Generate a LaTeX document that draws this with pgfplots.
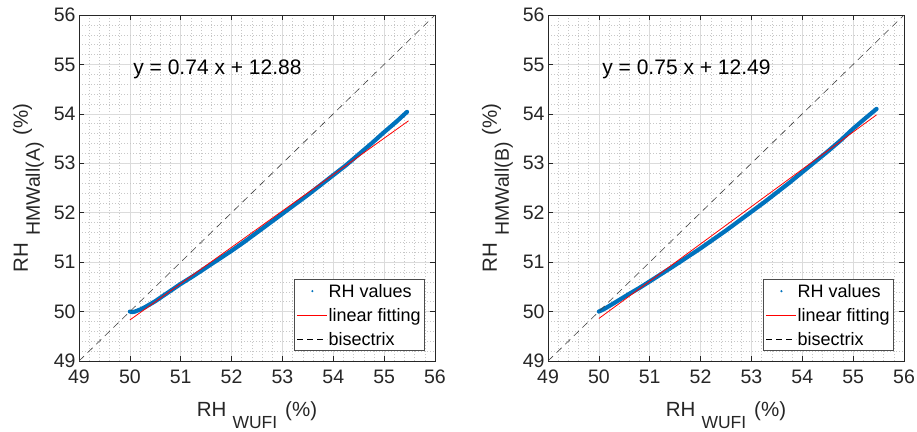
\documentclass[border=0pt]{standalone}
\usepackage{fontspec}
\setmainfont{Liberation Sans}
\usepackage{pgfplots}
\pgfplotsset{compat=1.18}
\definecolor{mblue}{RGB}{0,114,189}
\definecolor{axgray}{RGB}{38,38,38}
\definecolor{mred}{RGB}{255,0,0}

\pgfplotsset{
  dotlegend/.style={legend image code/.code={\path[draw=none,fill=none] (0pt,0pt) -- (30pt,0pt); \fill[mblue,draw=none] (15pt,0pt) circle (1.2pt);}},
  redlegend/.style={legend image code/.code={\fill[mred,draw=none] (0pt,-0.6pt) rectangle (30pt,0.6pt);}},
  dashlegend/.style={legend image code/.code={\draw[black, draw=black, line width=0.6pt, dash pattern=on 6pt off 4pt] (0pt,0pt) -- (30pt,0pt);}},
  rhstyle/.style={
  width=356pt, height=346pt, scale only axis,
  anchor=south west,
  xmin=49, xmax=56, ymin=49, ymax=56,
  xtick={49,50,...,56}, ytick={49,50,...,56},
  minor tick num=4,
  grid=both,
  major grid style={draw=black!14, line width=0.6pt},
  minor grid style={draw=black!22, line width=0.5pt, dash pattern=on 0.8pt off 2.2pt},
  tick align=inside,
  major tick length=5pt, minor tick length=0pt,
  axis line style={draw=axgray, line width=0.7pt},
  every tick/.style={draw=axgray, line width=0.7pt},
  tick label style={font=\fontsize{19.5}{19.5}\selectfont, text=axgray},
  xticklabel style={yshift=-5.5pt},
  /pgf/number format/assume math mode=true,
  label style={font=\fontsize{20.5}{20.5}\selectfont, text=axgray},
  xlabel style={at={(axis description cs:0.5,0)}, anchor=base, yshift=-55pt},
  ylabel style={at={(axis description cs:-0.1433,0.5)}, anchor=base},
  xlabel={RH\hspace{6pt}\raisebox{-12pt}{\fontsize{17.5}{17.5}\selectfont WUFI}\hspace{8pt}(\%)},
  legend style={at={(0.972,0.029)}, anchor=south east, draw=black!70, line width=0.6pt,
    fill=white, font=\fontsize{18}{18}\selectfont, inner xsep=3pt, inner ysep=1pt,
    row sep=3pt, nodes={inner sep=1pt, text height=16pt, text depth=3pt}},
  legend cell align=left,
  /tikz/every even column/.append style={column sep=3pt},
}}

\begin{document}
\begin{tikzpicture}
\begin{axis}[rhstyle, at={(79pt,70pt)},
  ylabel={RH\hspace{7pt}\raisebox{-12pt}{\fontsize{19.5}{19.5}\selectfont HMWall(A)}\hspace{7pt}(\%)}]
\addplot[mblue, line width=4.2pt, line join=round, line cap=round, forget plot]
  table {
50.00 50.00
50.05 49.99
50.10 50.00
50.20 50.04
50.30 50.09
50.40 50.15
50.50 50.21
50.60 50.28
50.70 50.35
50.80 50.42
51.00 50.56
51.25 50.72
51.50 50.89
51.75 51.06
52.00 51.23
52.25 51.41
52.50 51.60
52.75 51.79
53.00 51.98
53.25 52.17
53.50 52.36
53.75 52.56
54.00 52.76
54.25 52.96
54.50 53.18
54.75 53.40
55.00 53.63
55.25 53.85
55.45 54.04
};
\addplot[mred, line width=0.8pt, forget plot] table {
50.00 49.83
55.48 53.86
};
\addplot[black!75, line width=0.6pt, dash pattern=on 7pt off 5pt, forget plot] table {
49 49
56 56
};
\addlegendimage{dotlegend}
\addlegendentry{RH values}
\addlegendimage{redlegend}
\addlegendentry{linear fitting}
\addlegendimage{dashlegend}
\addlegendentry{bisectrix}
\node[anchor=base west, font=\fontsize{21}{21}\selectfont, text=black] at (axis cs:50,54.79) {y = 0.74 x + 12.88};
\end{axis}

\begin{axis}[rhstyle, at={(548pt,70pt)},
  ylabel={RH\hspace{7pt}\raisebox{-12pt}{\fontsize{19.5}{19.5}\selectfont HMWall(B)}\hspace{7pt}(\%)}]
\addplot[mblue, line width=4.2pt, line join=round, line cap=round, forget plot]
  table {
50.00 50.00
50.10 50.05
50.20 50.11
50.40 50.235
50.60 50.36
50.80 50.48
51.00 50.61
51.25 50.775
51.50 50.94
51.75 51.11
52.00 51.28
52.25 51.46
52.50 51.64
52.75 51.83
53.00 52.02
53.25 52.21
53.50 52.41
53.75 52.61
54.00 52.82
54.25 53.03
54.50 53.24
54.75 53.46
55.00 53.70
55.25 53.92
55.46 54.10
};
\addplot[mred, line width=0.8pt, forget plot] table {
50.00 49.86
55.46 53.98
};
\addplot[black!75, line width=0.6pt, dash pattern=on 7pt off 5pt, forget plot] table {
49 49
56 56
};
\addlegendimage{dotlegend}
\addlegendentry{RH values}
\addlegendimage{redlegend}
\addlegendentry{linear fitting}
\addlegendimage{dashlegend}
\addlegendentry{bisectrix}
\node[anchor=base west, font=\fontsize{21}{21}\selectfont, text=black] at (axis cs:50,54.79) {y = 0.75 x + 12.49};
\end{axis}
\pgfresetboundingbox
\useasboundingbox (0pt,0pt) rectangle (917pt,431pt);
\end{tikzpicture}
\end{document}
